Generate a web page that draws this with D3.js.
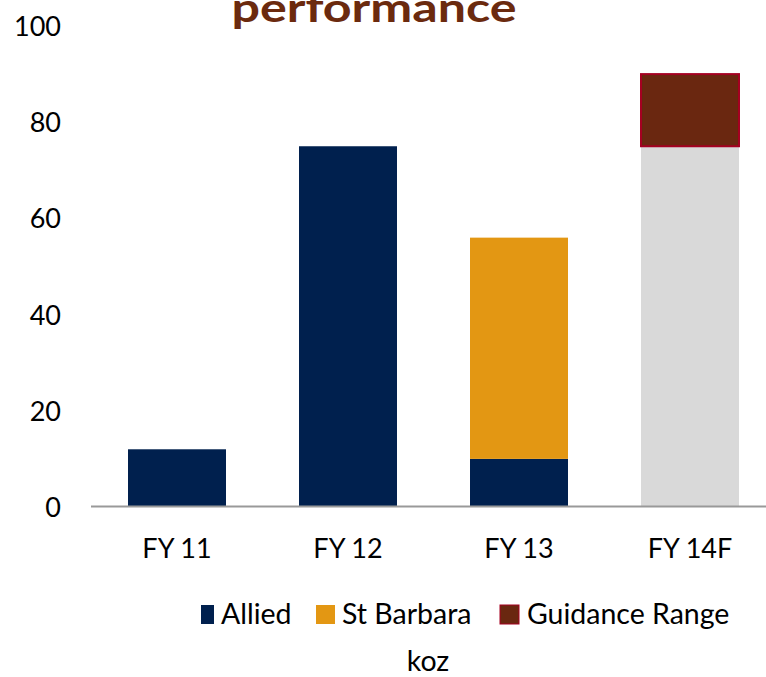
<!DOCTYPE html>
<html>
<head>
<meta charset="utf-8">
<script src="https://cdn.jsdelivr.net/npm/d3@7"></script>
<style>
  body { margin: 0; background: #fff; }
  text { font-family: Lato, "Open Sans", sans-serif; }
</style>
</head>
<body>
<svg id="chart" width="766" height="677"></svg>
<script>
// data
var categories = ['FY 11', 'FY 12', 'FY 13', 'FY 14F']
var allied = [12, 75, 10, 0]
var stBarbara = [0, 0, 46, 0]
var baseRange = [0, 0, 0, 75]
var guidance = [0, 0, 0, 15]
var yTicks = [0, 20, 40, 60, 80, 100]
var legendNames = ['Allied', 'St Barbara', 'Guidance Range']

var colors = { allied: '#00204E', stBarbara: '#E39713', base: '#D9D9D9', guidance: '#6A2710' }

var svg = d3.select('#chart')

var xScale = d3.scaleBand()
    .domain(categories)
    .range([91.5, 775.5])
    .paddingInner(0.427)
    .paddingOuter(0.2135)

var yScale = d3.scaleLinear()
    .domain([0, 100])
    .range([507, 26])

// build stacked rows
var rows = categories.map(function (c, i) {
    return { cat: c, allied: allied[i], stBarbara: stBarbara[i], base: baseRange[i], guidance: guidance[i] }
})
var keys = ['allied', 'stBarbara', 'base', 'guidance']
var stacked = d3.stack().keys(keys)(rows)

// title (second line, cut at top like the original)
svg.append('text')
    .attr('x', 374)
    .attr('y', 22)
    .attr('text-anchor', 'middle')
    .attr('font-size', 40)
    .attr('font-weight', 'bold')
    .attr('fill', '#6B2A0E')
    .attr('textLength', 285)
    .attr('lengthAdjust', 'spacingAndGlyphs')
    .text('performance')

// y axis labels
var yAxis = d3.axisLeft(yScale).tickValues(yTicks).tickSize(0).tickPadding(0)
var yg = svg.append('g')
    .attr('transform', 'translate(61,0)')
    .call(yAxis)
yg.select('.domain').remove()
yg.selectAll('text')
    .attr('font-size', 27)
    .attr('font-family', 'Lato, sans-serif')
    .attr('fill', '#000')
    .attr('dy', '0.35em')

// bars
stacked.forEach(function (layer) {
    svg.append('g')
        .selectAll('rect')
        .data(layer.filter(function (d) { return d[1] - d[0] > 0 }))
        .join('rect')
        .attr('x', function (d) { return xScale(d.data.cat) })
        .attr('width', xScale.bandwidth())
        .attr('y', function (d) { return yScale(d[1]) })
        .attr('height', function (d) { return yScale(d[0]) - yScale(d[1]) })
        .attr('fill', colors[layer.key])
        .attr('stroke', layer.key == 'guidance' ? '#A50021' : 'none')
        .attr('stroke-width', layer.key == 'guidance' ? 2 : 0)
})

// x axis
var xAxis = d3.axisBottom(xScale).tickSize(0).tickPadding(0)
var xg = svg.append('g')
    .attr('transform', 'translate(0,' + yScale(0) + ')')
    .call(xAxis)
xg.select('.domain').remove()
xg.append('line')
    .attr('x1', 91).attr('x2', 766)
    .attr('y1', -0.5).attr('y2', -0.5)
    .attr('stroke', '#999')
    .attr('stroke-width', 2)
xg.selectAll('.tick text')
    .attr('font-size', 27)
    .attr('font-family', 'Lato, sans-serif')
    .attr('fill', '#000')
    .attr('y', 51)
    .attr('dy', 0)

// legend
var legendItems = [
    { name: legendNames[0], color: colors.allied, sx: 201, sw: 13, tx: 221, stroke: 'none' },
    { name: legendNames[1], color: colors.stBarbara, sx: 316, sw: 19, tx: 342, stroke: 'none' },
    { name: legendNames[2], color: colors.guidance, sx: 500, sw: 19, tx: 527, stroke: '#A50021' }
]
var lg = svg.append('g')
legendItems.forEach(function (it) {
    lg.append('rect')
        .attr('x', it.sx).attr('y', 605)
        .attr('width', it.sw).attr('height', 19)
        .attr('fill', it.color)
        .attr('stroke', it.stroke)
        .attr('stroke-width', 1)
    lg.append('text')
        .attr('x', it.tx).attr('y', 624)
        .attr('font-size', 28.5)
        .attr('fill', '#000')
        .text(it.name)
})

svg.append('text')
    .attr('x', 428).attr('y', 671)
    .attr('text-anchor', 'middle')
    .attr('font-size', 28.5)
    .attr('fill', '#000')
    .text('koz')
</script>
</body>
</html>
